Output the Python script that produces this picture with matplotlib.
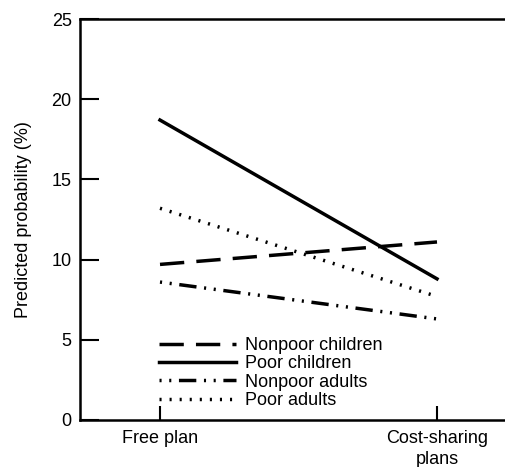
import matplotlib
matplotlib.use("Agg")
from matplotlib import pyplot as plt

plans = ["Free plan", "Cost-sharing\nplans"]
nonpoor_children = [9.7, 11.1]
poor_children = [18.7, 8.8]
nonpoor_adults = [8.6, 6.3]
poor_adults = [13.2, 7.7]

plt.rcParams['font.family'] = ['Liberation Sans', 'DejaVu Sans']
fs = 13

fig = plt.figure(figsize=(5.06, 4.67), dpi=100)
ax = fig.add_axes([80 / 506, 47 / 467, 426 / 506, 401 / 467])

x = [0, 1]
lw = 2.5
ax.plot(x, nonpoor_children, color='black', lw=lw, dashes=(7, 3.5), label="Nonpoor children")
ax.plot(x, poor_children, color='black', lw=lw, linestyle='-', label="Poor children")
ax.plot(x, nonpoor_adults, color='black', lw=lw, dashes=(0.6, 2.2, 0.6, 2.2, 5, 2.2), label="Nonpoor adults")
ax.plot(x, poor_adults, color='black', lw=lw, dashes=(0.6, 2.3), label="Poor adults")

ax.set_xlim(-80 / 277, 346 / 277)
ax.set_ylim(0, 25)
ax.set_yticks([0, 5, 10, 15, 20, 25])
ax.set_xticks(x)
ax.set_xticklabels(plans, fontsize=fs, linespacing=1.3)
ax.tick_params(axis='y', direction='in', length=14, width=1.5, labelsize=fs, pad=6)
ax.tick_params(axis='x', direction='in', length=10, width=1.5, pad=7)
ax.set_ylabel("Predicted probability (%)", fontsize=fs, labelpad=14)

for side in ['left', 'bottom', 'top']:
    ax.spines[side].set_linewidth(1.8)
ax.spines['right'].set_visible(False)

ax.legend(loc='lower left', bbox_to_anchor=(0.185, 0.027), frameon=False, fontsize=fs,
          handlelength=4.3, handletextpad=0.5, labelspacing=0.08, borderaxespad=0,
          borderpad=0)

fig.savefig("out.png", dpi=100)
